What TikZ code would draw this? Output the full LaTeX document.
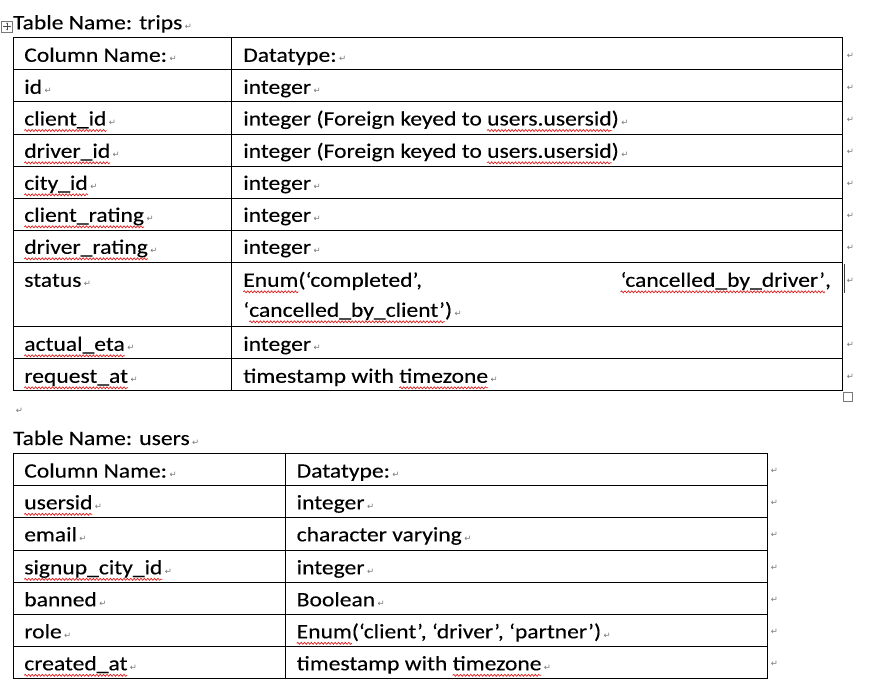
\documentclass[tikz,border=0pt]{standalone}
\usepackage{fontspec}
\setmainfont{Carlito}[FakeStretch=1.15,FakeBold=0.2]
\newfontfamily\dvs{DejaVu Sans}
\usetikzlibrary{decorations.pathmorphing,arrows.meta}
\definecolor{markgray}{RGB}{120,120,120}
\definecolor{squigred}{RGB}{225,30,30}
\tikzset{
  txt/.style={anchor=base west,inner sep=0pt,outer sep=0pt,text=black},
  pmk/.style={anchor=base west,inner sep=0pt,outer sep=0pt,text=markgray,font=\dvs\fontsize{8.5}{8.5}\selectfont},
  rmk/.style={anchor=center,inner sep=0pt,outer sep=0pt,text=markgray,font=\dvs\fontsize{8.5}{8.5}\selectfont},
  squig/.style={draw=squigred,line width=0.7pt,decorate,decoration={snake,amplitude=1pt,segment length=3.4pt}},
  gridline/.style={draw=black,line width=0.9pt},
}
\newcommand\cellt[3]{\node[txt] (#1) at (#2) {#3};\node[pmk] at ([xshift=2.5pt]#1.base east) {↵};}
\newcommand\sqz[1]{\draw[squig] ([yshift=-5pt]#1.base west) -- ([yshift=-5pt]#1.base east);}
\begin{document}
\begin{tikzpicture}[x=1pt,y=-1pt,font=\fontsize{20.5}{24}\selectfont]
\fill[white] (0,0) rectangle (889,690);
\useasboundingbox (0,0) rectangle (889,690);

% ---------- table move handle ----------
\draw[markgray,line width=0.5pt,fill=white] (1.5,21) rectangle (12.5,32);
\draw[black!70,line width=0.5pt,{Stealth[length=1.4pt,width=1.6pt]}-{Stealth[length=1.4pt,width=1.6pt]}] (7,22.5) -- (7,30.5);
\draw[black!70,line width=0.5pt,{Stealth[length=1.4pt,width=1.6pt]}-{Stealth[length=1.4pt,width=1.6pt]}] (3,26.5) -- (11,26.5);

% ---------- trips ----------
\cellt{ttitle}{13,29.3}{Table Name: trips}

\foreach \yy in {37.5,69.5,101.5,134,166,198,230,262.5,326.5,358.5,390.5}
  \draw[gridline] (13.3,\yy) -- (842.7,\yy);
\draw[gridline] (13.3,37.5) -- (13.3,390.5);
\draw[gridline] (231.7,37.5) -- (231.7,390.5);
\draw[gridline] (842.7,37.5) -- (842.7,390.5);

\cellt{ta0}{24.3,61.8}{Column Name:}
\cellt{tb0}{243.3,61.8}{Datatype:}
\cellt{ta1}{24.3,93.8}{id}
\cellt{tb1}{243.3,93.8}{integer}
\cellt{ta2}{24.3,125.5}{client\_id} \sqz{ta2}
\node[txt] (tb2a) at (243.3,125.5) {integer (Foreign keyed to\ \null};
\node[txt] (tb2b) at (tb2a.base east) {users.usersid}; \sqz{tb2b}
\cellt{tb2c}{tb2b.base east}{)}
\cellt{ta3}{24.3,157.8}{driver\_id} \sqz{ta3}
\node[txt] (tb3a) at (243.3,157.8) {integer (Foreign keyed to\ \null};
\node[txt] (tb3b) at (tb3a.base east) {users.usersid}; \sqz{tb3b}
\cellt{tb3c}{tb3b.base east}{)}
\cellt{ta4}{24.3,189.8}{city\_id} \sqz{ta4}
\cellt{tb4}{243.3,189.8}{integer}
\cellt{ta5}{24.3,221.8}{client\_rating} \sqz{ta5}
\cellt{tb5}{243.3,221.8}{integer}
\cellt{ta6}{24.3,253.8}{driver\_rating} \sqz{ta6}
\cellt{tb6}{243.3,253.8}{integer}
\cellt{ta7}{24.3,286.8}{status}
\node[txt] (tb7a) at (243.3,286.8) {Enum}; \sqz{tb7a}
\node[txt] (tb7b) at (tb7a.base east) {(‘completed’,};
\node[txt,anchor=base east] (tb7d) at (831,286.8) {,};
\node[txt,anchor=base east] (tb7c) at (tb7d.base west) {‘cancelled\_by\_driver’}; \sqz{tb7c}
\node[txt] (tb7e) at (243.3,316.8) {‘};
\node[txt] (tb7f) at (tb7e.base east) {cancelled\_by\_client’}; \sqz{tb7f}
\cellt{tb7g}{tb7f.base east}{)}
\cellt{ta8}{24.3,350.8}{actual\_eta} \sqz{ta8}
\cellt{tb8}{243.3,350.8}{integer}
\cellt{ta9}{24.3,382.8}{request\_at} \sqz{ta9}
\node[txt] (tb9a) at (243.3,382.8) {timestamp with\ \null};
\cellt{tb9b}{tb9a.base east}{timezone} \sqz{tb9b}

% end-of-row marks (trips)
\foreach \yy in {37.5,69.5,101.5,134,166,198,230,262.5,326.5,358.5}
  \node[rmk] at (850.5,\yy+18) {↵};
% cursor and resize handle
\draw[black!75,line width=0.8pt] (844.6,264) -- (844.6,293);
\draw[markgray,line width=0.6pt,fill=white] (843.5,392.2) rectangle (852.5,401);

% empty paragraph between tables
\node[rmk] (gap) at (19.5,411) {↵};

% ---------- users ----------
\cellt{utitle}{13,445}{Table Name: users}

\foreach \yy in {453.3,485.3,517.3,550.3,582.3,614.3,646.3,678.3}
  \draw[gridline] (13.3,\yy) -- (767.7,\yy);
\draw[gridline] (13.3,453.3) -- (13.3,678.3);
\draw[gridline] (285.7,453.3) -- (285.7,678.3);
\draw[gridline] (767.7,453.3) -- (767.7,678.3);

\cellt{ua0}{24.3,477.6}{Column Name:}
\cellt{ub0}{296.7,477.6}{Datatype:}
\cellt{ua1}{24.3,509.3}{usersid} \sqz{ua1}
\cellt{ub1}{296.7,509.3}{integer}
\cellt{ua2}{24.3,541.3}{email}
\cellt{ub2}{296.7,541.3}{character varying}
\cellt{ua3}{24.3,574.3}{signup\_city\_id} \sqz{ua3}
\cellt{ub3}{296.7,574.3}{integer}
\cellt{ua4}{24.3,606.3}{banned}
\cellt{ub4}{296.7,606.3}{Boolean}
\cellt{ua5}{24.3,638.3}{role}
\node[txt] (ub5a) at (296.7,638.3) {Enum}; \sqz{ub5a}
\cellt{ub5b}{ub5a.base east}{(‘client’, ‘driver’, ‘partner’)}
\cellt{ua6}{24.3,670.3}{created\_at} \sqz{ua6}
\node[txt] (ub6a) at (296.7,670.3) {timestamp with\ \null};
\cellt{ub6b}{ub6a.base east}{timezone} \sqz{ub6b}

% end-of-row marks (users)
\foreach \yy in {453.3,485.3,517.3,550.3,582.3,614.3,646.3}
  \node[rmk] at (774.5,\yy+18) {↵};
\end{tikzpicture}
\end{document}
